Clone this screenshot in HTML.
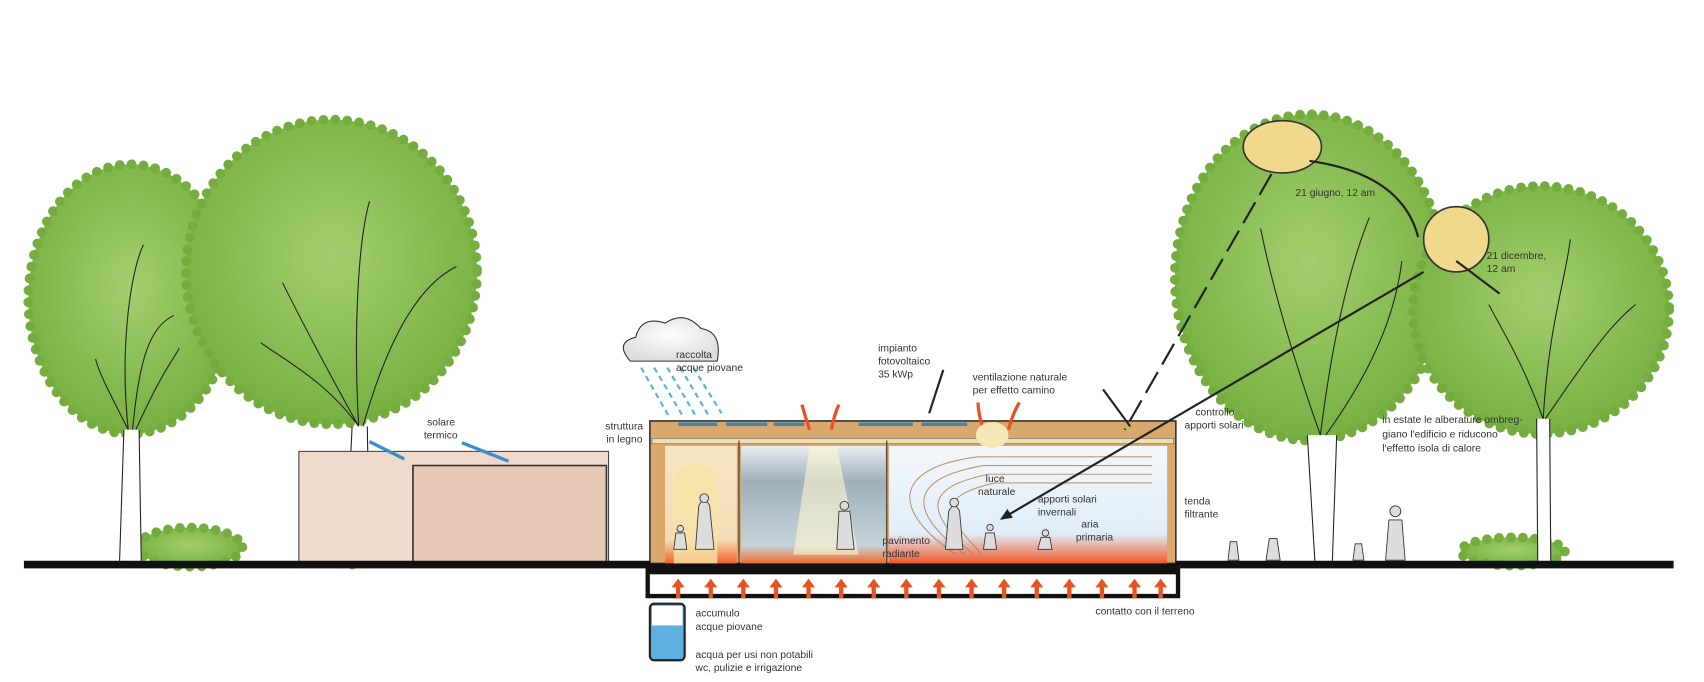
<!DOCTYPE html>
<html><head><meta charset="utf-8"><style>
html,body{margin:0;padding:0;background:#fff;width:1704px;height:682px;overflow:hidden}
svg{display:block}
text{font-family:"Liberation Sans",sans-serif;font-size:9.5px;fill:#333}
</style></head><body>
<svg width="1704" height="682" viewBox="0 0 1568 627" preserveAspectRatio="none">
<defs>
<radialGradient id="g" cx="50%" cy="45%" r="60%"><stop offset="0" stop-color="#a3cf6e"/><stop offset="1" stop-color="#74ad3e"/></radialGradient>
<linearGradient id="mid" x1="0" y1="0" x2="0" y2="1"><stop offset="0" stop-color="#e8eef0"/><stop offset=".3" stop-color="#9fb0ba"/><stop offset=".85" stop-color="#c6d3da"/><stop offset="1" stop-color="#f06a2a"/></linearGradient>
<linearGradient id="rt" x1="0" y1="0" x2="0" y2="1"><stop offset="0" stop-color="#f3f7fb"/><stop offset=".75" stop-color="#e0edf7"/><stop offset="1" stop-color="#f0582a"/></linearGradient>
<linearGradient id="lt" x1="0" y1="0" x2="0" y2="1"><stop offset="0" stop-color="#f7e5c3"/><stop offset=".8" stop-color="#f4dcb5"/><stop offset="1" stop-color="#f0622a"/></linearGradient>
<radialGradient id="cl" cx="50%" cy="40%" r="60%"><stop offset="0" stop-color="#fff"/><stop offset="1" stop-color="#ddd"/></radialGradient>
</defs>
<g fill="url(#g)" stroke="#74ad3e" stroke-width="9" stroke-dasharray="0 11" stroke-linecap="round">
<ellipse cx="120" cy="275" rx="94" ry="124"/>
<ellipse cx="305" cy="250" rx="134" ry="140"/>
<ellipse cx="1205" cy="255" rx="124" ry="150"/>
<ellipse cx="1418" cy="285" rx="118" ry="114"/>
<ellipse cx="175" cy="503" rx="48" ry="18"/>
<ellipse cx="322" cy="503" rx="28" ry="16"/>
<ellipse cx="1392" cy="507" rx="48" ry="13"/>
</g>
<g fill="#fff" stroke="#222" stroke-width="1">
<path d="M114 395 L110 517 L130 517 L128 395"/>
<path d="M324 392 L318 517 L340 517 L338 392"/>
<path d="M1203 400 L1210 517 L1226 517 L1230 400"/>
<path d="M1414 385 L1415 517 L1427 517 L1426 385"/>
</g>
<g fill="none" stroke="#222" stroke-width="1">
<path d="M118 395 C110 320 120 250 132 225 M118 395 C100 360 90 340 88 330 M125 395 C150 340 160 330 165 320 M122 395 C128 330 138 300 160 290"/>
<path d="M330 392 C325 300 330 220 340 185 M330 392 C290 320 270 280 260 260 M334 392 C360 300 390 260 420 245 M330 392 C300 350 260 330 240 315"/>
<path d="M1215 400 C1190 330 1170 260 1160 210 M1215 400 C1225 320 1240 250 1260 200 M1220 400 C1270 330 1285 280 1290 240"/>
<path d="M1420 385 C1400 330 1380 300 1370 280 M1420 385 C1425 300 1440 260 1445 220 M1422 385 C1460 330 1480 300 1505 280"/>
</g>
<rect x="275" y="415" width="285" height="103" fill="#efd9cb" stroke="#444" stroke-width="1"/>
<rect x="380" y="428" width="178" height="90" fill="#e6c8b5" stroke="#333" stroke-width="1.5"/>
<line x1="340" y1="406" x2="372" y2="422" stroke="#3a8fc8" stroke-width="3"/>
<line x1="425" y1="407" x2="468" y2="424" stroke="#3a8fc8" stroke-width="3"/>
<text x="393" y="391">solare</text><text x="390" y="403">termico</text>
<rect x="598" y="387" width="484" height="131" fill="#d9a86c" stroke="#333" stroke-width="1.5"/>
<rect x="600" y="403" width="480" height="5" fill="#f0ddb0" stroke="#555" stroke-width=".5"/>
<rect x="612" y="410" width="66" height="108" fill="url(#lt)"/>
<path d="M620 518 L620 440 Q640 410 660 440 L660 518Z" fill="#f8e2a8" opacity=".8"/>
<rect x="682" y="410" width="133" height="108" fill="url(#mid)"/>
<path d="M745 410 L770 410 L790 510 L730 510Z" fill="#fff6d0" opacity=".6"/>
<rect x="818" y="410" width="256" height="108" fill="url(#rt)"/>
<g fill="none" stroke="#b08050" stroke-width="1" opacity=".8">
<path d="M880 510 C820 470 820 430 900 420 L1060 420"/>
<path d="M888 510 C835 470 835 440 905 428 L1060 428"/>
<path d="M896 510 C850 470 850 448 910 436 L1060 436"/>
<path d="M904 510 C865 470 865 456 915 444 L1060 444"/>
</g>
<line x1="680" y1="405" x2="680" y2="518" stroke="#333"/>
<line x1="816" y1="405" x2="816" y2="518" stroke="#333"/>
<g stroke="#2f85c5" stroke-width="3"><line x1="624" y1="390" x2="660" y2="390"/><line x1="668" y1="390" x2="706" y2="390"/><line x1="712" y1="390" x2="740" y2="390"/><line x1="790" y1="390" x2="840" y2="390"/><line x1="848" y1="390" x2="890" y2="390"/></g>
<g fill="#ddd" stroke="#333" stroke-width=".8">
<path d="M640 505 L643 465 Q648 455 653 465 L657 505Z"/><circle cx="648" cy="458" r="4"/>
<path d="M620 505 L622 490 L630 490 L632 505Z"/><circle cx="626" cy="486" r="3"/>
<path d="M770 505 L772 470 L782 470 L786 505Z"/><circle cx="777" cy="465" r="4"/>
<path d="M870 505 L873 470 Q878 460 883 470 L886 505Z"/><circle cx="878" cy="462" r="4"/>
<path d="M905 505 L907 490 L915 490 L917 505Z"/><circle cx="911" cy="485" r="3"/>
<path d="M955 505 L958 494 L966 494 L968 505Z"/><circle cx="962" cy="490" r="3"/>
<path d="M1130 515 L1132 498 L1138 498 L1140 515Z"/><path d="M1165 515 L1168 495 L1175 495 L1178 515Z"/>
<path d="M1245 515 L1247 500 L1253 500 L1255 515Z"/><path d="M1275 515 L1278 478 L1290 478 L1293 515Z"/><circle cx="1284" cy="470" r="5"/>
</g>
<rect x="596" y="518" width="488" height="10" fill="#111"/>
<path d="M596 518 L596 548 L1084 548 L1084 518" fill="none" stroke="#111" stroke-width="4"/>
<g fill="#e8541f">
<path d="M618 540 l6 -8 l6 8 h-4 v10 h-4 v-10z"/><path d="M648 540 l6 -8 l6 8 h-4 v10 h-4 v-10z"/><path d="M678 540 l6 -8 l6 8 h-4 v10 h-4 v-10z"/><path d="M708 540 l6 -8 l6 8 h-4 v10 h-4 v-10z"/><path d="M738 540 l6 -8 l6 8 h-4 v10 h-4 v-10z"/><path d="M768 540 l6 -8 l6 8 h-4 v10 h-4 v-10z"/><path d="M798 540 l6 -8 l6 8 h-4 v10 h-4 v-10z"/><path d="M828 540 l6 -8 l6 8 h-4 v10 h-4 v-10z"/><path d="M858 540 l6 -8 l6 8 h-4 v10 h-4 v-10z"/><path d="M888 540 l6 -8 l6 8 h-4 v10 h-4 v-10z"/><path d="M918 540 l6 -8 l6 8 h-4 v10 h-4 v-10z"/><path d="M948 540 l6 -8 l6 8 h-4 v10 h-4 v-10z"/><path d="M978 540 l6 -8 l6 8 h-4 v10 h-4 v-10z"/><path d="M1008 540 l6 -8 l6 8 h-4 v10 h-4 v-10z"/><path d="M1038 540 l6 -8 l6 8 h-4 v10 h-4 v-10z"/><path d="M1062 540 l6 -8 l6 8 h-4 v10 h-4 v-10z"/>
</g>
<path d="M22 519 L598 519 M1082 519 L1540 519" stroke="#111" stroke-width="7"/>
<g stroke="#e8541f" stroke-width="3" fill="none"><path d="M745 395 Q740 380 738 372"/><path d="M765 395 Q768 380 772 372"/><path d="M905 395 Q900 380 900 370"/><path d="M928 395 Q932 380 938 370"/></g>
<ellipse cx="913" cy="400" rx="15" ry="12" fill="#f6e6b8"/>
<path d="M580 332 Q565 315 585 310 Q590 290 612 297 Q630 285 645 302 Q665 305 660 332Z" fill="url(#cl)" stroke="#333"/>
<g stroke="#5ab4d6" stroke-width="2" stroke-dasharray="5 4"><line x1="590" y1="338" x2="615" y2="382"/><line x1="602" y1="338" x2="628" y2="382"/><line x1="614" y1="338" x2="640" y2="382"/><line x1="626" y1="338" x2="652" y2="382"/><line x1="638" y1="338" x2="664" y2="380"/></g>
<rect x="598" y="555" width="32" height="52" rx="4" fill="#5fb0e0" stroke="#222" stroke-width="2"/>
<rect x="600" y="557" width="28" height="18" fill="#fff"/>
<ellipse cx="1180" cy="135" rx="36" ry="24" fill="#f0d98a" stroke="#333" stroke-width="1.5"/>
<ellipse cx="1340" cy="220" rx="30" ry="30" fill="#f0d98a" stroke="#333" stroke-width="1.5"/>
<path d="M1205 148 Q1290 160 1305 218 M1340 240 L1380 270" stroke="#222" stroke-width="2" fill="none"/>
<line x1="1170" y1="160" x2="1035" y2="395" stroke="#222" stroke-width="2" stroke-dasharray="22 8"/>
<line x1="1310" y1="250" x2="925" y2="475" stroke="#222" stroke-width="2"/>
<path d="M920 478 l12 -2 l-5 -8z" fill="#222"/>
<line x1="855" y1="380" x2="868" y2="340" stroke="#222" stroke-width="2"/>
<line x1="1040" y1="392" x2="1015" y2="358" stroke="#222" stroke-width="2"/>
<text x="622" y="329">raccolta</text><text x="622" y="341">acque piovane</text>
<text x="808" y="323">impianto</text><text x="808" y="335">fotovoltaico</text><text x="808" y="347">35 kWp</text>
<text x="895" y="350">ventilazione naturale</text><text x="895" y="362">per effetto camino</text>
<text x="557" y="395">struttura</text><text x="558" y="407">in legno</text>
<text x="907" y="443">luce</text><text x="900" y="455">naturale</text>
<text x="955" y="462">apporti solari</text><text x="955" y="474">invernali</text>
<text x="995" y="485">aria</text><text x="990" y="497">primaria</text>
<text x="812" y="500">pavimento</text><text x="812" y="512">radiante</text>
<text x="1090" y="464">tenda</text><text x="1090" y="476">filtrante</text>
<text x="1100" y="382">controllo</text><text x="1090" y="394">apporti solari</text>
<text x="1272" y="389">in estate le alberature ombreg-</text><text x="1272" y="402">giano l'edificio e riducono</text><text x="1272" y="415">l'effetto isola di calore</text>
<text x="1192" y="180">21 giugno, 12 am</text>
<text x="1368" y="238">21 dicembre,</text><text x="1368" y="250">12 am</text>
<text x="1008" y="565">contatto con il terreno</text>
<text x="640" y="567">accumulo</text><text x="640" y="579">acque piovane</text>
<text x="640" y="605">acqua per usi non potabili</text><text x="640" y="617">wc, pulizie e irrigazione</text>
</svg>
</body></html>
